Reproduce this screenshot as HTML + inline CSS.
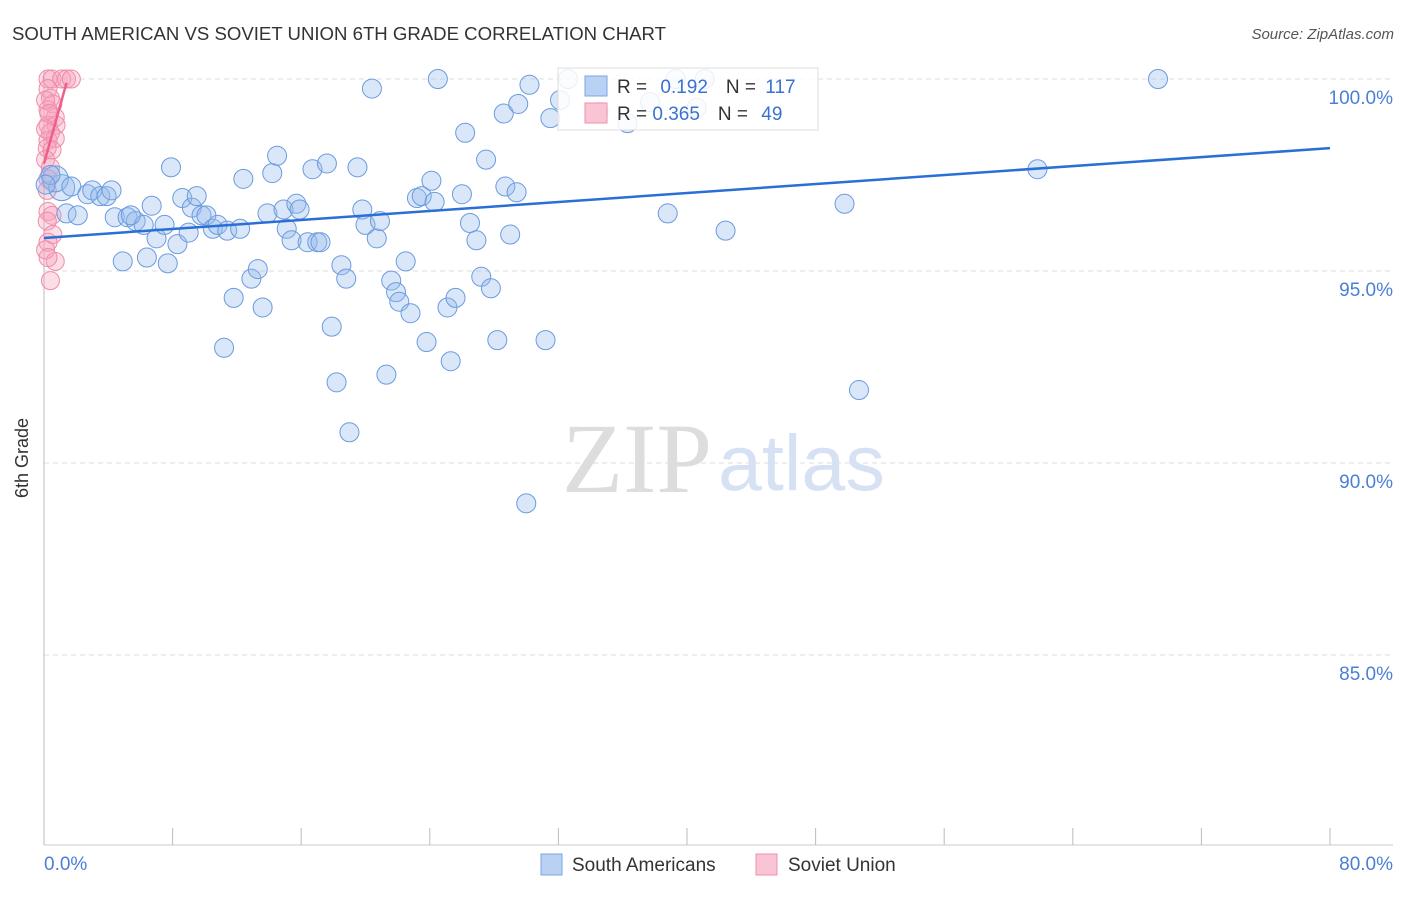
<!DOCTYPE html>
<html><head><meta charset="utf-8"><style>
body{margin:0;background:#fff;font-family:"Liberation Sans",sans-serif;}
</style></head><body>
<svg width="1406" height="892" xmlns="http://www.w3.org/2000/svg">
<text x="12" y="40" font-size="18.6" fill="#333">SOUTH AMERICAN VS SOVIET UNION 6TH GRADE CORRELATION CHART</text>
<text x="1394" y="39" font-size="15" fill="#555" text-anchor="end" font-style="italic">Source: ZipAtlas.com</text>
<g id="grid"></g>
<text x="712" y="492" font-size="100" fill="#ddd" text-anchor="end" font-family="Liberation Serif,serif">ZIP</text>
<text x="718" y="490" font-size="79" fill="#d6e2f4">atlas</text>
<g id="marks"></g>
<text x="28" y="458" font-size="18" fill="#333" text-anchor="middle" transform="rotate(-90 28 458)">6th Grade</text>
<text x="44" y="870" font-size="19" fill="#4a7fd4">0.0%</text>
<text x="1393" y="870" font-size="19" fill="#4a7fd4" text-anchor="end">80.0%</text>
<g>
<rect x="541" y="854" width="21" height="21" fill="#b9d1f3" stroke="#7aa5e3"/>
<text x="572" y="871" font-size="19" fill="#333">South Americans</text>
<rect x="756" y="854" width="21" height="21" fill="#f9c4d3" stroke="#ef8fad"/>
<text x="788" y="871" font-size="19" fill="#333">Soviet Union</text>
</g>
<g>
<rect x="558" y="68" width="260" height="62" fill="rgba(255,255,255,0.85)" stroke="#ddd"/>
<rect x="585" y="76" width="22" height="20" fill="#b9d1f3" stroke="#7aa5e3"/>
<text x="617" y="93" font-size="19" fill="#333">R = <tspan fill="#3a72d0" dx="8">0.192</tspan><tspan dx="18" fill="#333">N = </tspan><tspan fill="#3a72d0" dx="4">117</tspan></text>
<rect x="585" y="103" width="22" height="20" fill="#f9c4d3" stroke="#ef8fad"/>
<text x="617" y="120" font-size="19" fill="#333">R = <tspan fill="#3a72d0">0.365</tspan><tspan dx="18" fill="#333">N = </tspan><tspan fill="#3a72d0" dx="8">49</tspan></text>
</g>
</svg>
<script>
const blueX=[1.1,0.7,1.4,2.1,1.7,2.7,3.0,3.5,3.9,4.4,4.9,5.2,5.7,6.2,6.4,6.7,7.0,7.5,7.7,7.9,8.3,8.6,9.0,9.2,9.5,9.8,10.1,10.5,10.8,11.2,11.4,11.8,12.2,12.4,12.9,13.3,13.6,13.9,14.2,14.5,14.9,15.1,15.4,15.7,15.9,16.4,16.7,17.0,17.2,17.6,17.9,18.2,18.5,18.8,19.0,19.5,19.8,20.0,20.4,20.7,20.9,21.3,21.6,21.9,22.1,22.5,22.8,23.2,23.5,23.8,24.1,24.3,24.5,25.1,25.3,25.6,26.0,26.2,26.5,26.9,27.2,27.5,27.8,28.2,28.6,28.7,29.0,29.4,29.5,30.0,30.2,31.2,31.5,32.1,32.6,34.5,36.3,37.7,38.8,39.3,40.6,41.1,42.4,49.8,50.7,61.8,69.3,0.4,0.1,4.2,5.4];
const blueY=[97.17,97.4,96.5,96.45,97.2,97.0,97.1,96.95,96.95,96.4,95.25,96.4,96.3,96.2,95.35,96.7,95.85,96.2,95.2,97.7,95.7,96.9,96.0,96.65,96.95,96.45,96.45,96.1,96.2,93.0,96.05,94.3,96.1,97.4,94.8,95.05,94.05,96.5,97.55,98.0,96.6,96.1,95.8,96.75,96.6,95.75,97.65,95.75,95.75,97.8,93.55,92.1,95.15,94.8,90.8,97.7,96.6,96.2,99.75,95.85,96.3,92.3,94.75,94.45,94.2,95.25,93.9,96.9,96.95,93.15,97.35,96.8,100,94.05,92.65,94.3,97.0,98.6,96.25,95.8,94.85,97.9,94.55,93.2,99.1,97.2,95.95,97.05,99.35,88.95,99.85,93.2,98.98,99.45,100,99.15,98.85,99.4,96.5,100,99.25,100,96.05,96.75,91.9,97.65,100,97.5,97.25,97.1,96.45];
const pinkX=[0.25,0.5,1.1,1.4,1.7,0.25,0.4,0.55,0.25,0.7,0.25,0.75,0.4,0.25,0.7,0.2,0.5,0.1,0.4,0.25,0.2,0.25,0.5,0.2,0.55,0.25,0.1,0.7,0.25,0.4,0.1,0.3,0.1];
const pinkY=[100,100,100,100,100,99.75,99.5,99.35,99.2,99.0,98.8,98.8,98.6,98.4,98.45,98.2,98.15,97.9,97.7,97.4,97.1,96.55,96.45,96.3,95.95,95.75,95.55,95.25,95.35,94.75,99.45,99.1,98.7];
const blueTrendX=[0,80], blueTrendY=[95.86,98.2];
const pinkTrendX=[0,1.4], pinkTrendY=[97.8,99.9];
const yTicks=[100,95,90,85];
const yTickLabels=["100.0%","95.0%","90.0%","85.0%"];
const xTicks=[0,8,16,24,32,40,48,56,64,72,80];
const sx=v=>44+v/80*1286, sy=v=>79+(100-v)*38.4;
const NS="http://www.w3.org/2000/svg";
function mk(t,a,p){const e=document.createElementNS(NS,t);for(const k in a)e.setAttribute(k,a[k]);p.appendChild(e);return e;}
const g=document.getElementById('grid'), m=document.getElementById('marks');
yTicks.forEach((v,i)=>{
 const l=mk('line',{x1:44,x2:1393,y1:sy(v),y2:sy(v),stroke:'#ddd','stroke-dasharray':'5,4'},g);
 
 
 const t=mk('text',{x:1393,y:sy(v)+25,'font-size':19,fill:'#4a7fd4','text-anchor':'end'},g);
 t.textContent=yTickLabels[i];
 
 
});
const ax=mk('line',{x1:44,x2:1393,y1:845,y2:845,stroke:'#ccc'},g);


const ay=mk('line',{x1:44,x2:44,y1:70,y2:845,stroke:'#bbb'},g);


xTicks.forEach(v=>{
 const l=mk('line',{x1:sx(v),x2:sx(v),y1:828,y2:845,stroke:'#bbb'},g);
 
 
});
pinkX.forEach((x,i)=>{
 const c=mk('circle',{cx:sx(x),cy:sy(pinkY[i]),r:9,fill:'rgba(245,160,185,0.35)',stroke:'#f08aaa','stroke-width':1},m);
 
 
});
blueX.forEach((x,i)=>{
 const c=mk('circle',{cx:sx(x),cy:sy(blueY[i]),r:i<2?13:9.5,fill:'rgba(150,185,235,0.35)',stroke:'#6a9be0','stroke-width':1},m);
 
 
});
const bl=mk('line',{x1:sx(blueTrendX[0]),y1:sy(blueTrendY[0]),x2:sx(blueTrendX[1]),y2:sy(blueTrendY[1]),stroke:'#2a6fd6','stroke-width':2.5},m);


const pl=mk('line',{x1:sx(pinkTrendX[0]),y1:sy(pinkTrendY[0]),x2:sx(pinkTrendX[1]),y2:sy(pinkTrendY[1]),stroke:'#ee5f8a','stroke-width':2.5},m);


</script>
</body></html>
